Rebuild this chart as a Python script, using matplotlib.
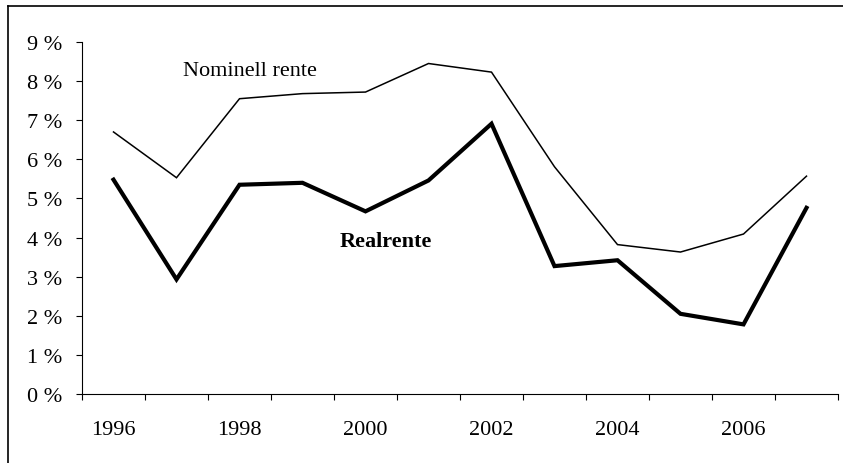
import matplotlib
matplotlib.use("Agg")
import matplotlib.pyplot as plt
from matplotlib.lines import Line2D

years = [1996, 1997, 1998, 1999, 2000, 2001, 2002, 2003, 2004, 2005, 2006, 2007]
nominell = [6.70, 5.53, 7.55, 7.68, 7.72, 8.45, 8.23, 5.81, 3.82, 3.63, 4.09, 5.57]
realrente = [5.48, 2.93, 5.35, 5.40, 4.67, 5.46, 6.91, 3.27, 3.42, 2.05, 1.78, 4.76]
yticks = list(range(0, 10))
ytick_labels = [f"{v} %" for v in yticks]

plt.rcParams['font.family'] = ['Liberation Serif', 'DejaVu Serif']

fig = plt.figure(figsize=(8.43, 4.64), dpi=100)
ax = fig.add_axes([82/843, 1-395/464, (838-82)/843, (395-43)/464])

x = list(range(len(years)))
ax.plot(x, nominell, color='black', lw=1.1, solid_joinstyle='miter')
ax.plot(x, realrente, color='black', lw=3.0, solid_joinstyle='miter')

ax.set_xlim(-0.5, len(years) - 0.5)
ax.set_ylim(0, 9)
ax.set_yticks(yticks)
ax.set_yticklabels(ytick_labels, fontsize=16)
ax.tick_params(axis='y', direction='out', length=4.3, width=0.8, pad=10)

ax.set_xticks(x[::2])
ax.set_xticklabels([str(y) for y in years[::2]], fontsize=16)
ax.set_xticks([i - 0.5 for i in range(len(years) + 1)], minor=True)
ax.tick_params(axis='x', which='major', length=0, pad=19)
ax.tick_params(axis='x', which='minor', direction='out', length=4.5, width=0.8)

for s in ['top', 'right']:
    ax.spines[s].set_visible(False)
for s in ['left', 'bottom']:
    ax.spines[s].set_linewidth(0.8)

ax.text(2.17, 8.27, "Nominell rente", fontsize=16, ha='center', va='center')
ax.text(4.33, 3.92, "Realrente", fontsize=16, fontweight='bold', ha='center', va='center')

# outer frame (left and top edges visible)
fig.add_artist(Line2D([8/843, 8/843], [0, 1-7/464], transform=fig.transFigure, color='black', lw=1.2))
fig.add_artist(Line2D([8/843, 1], [1-7/464, 1-7/464], transform=fig.transFigure, color='black', lw=1.2))

fig.savefig("out.png", dpi=100)
